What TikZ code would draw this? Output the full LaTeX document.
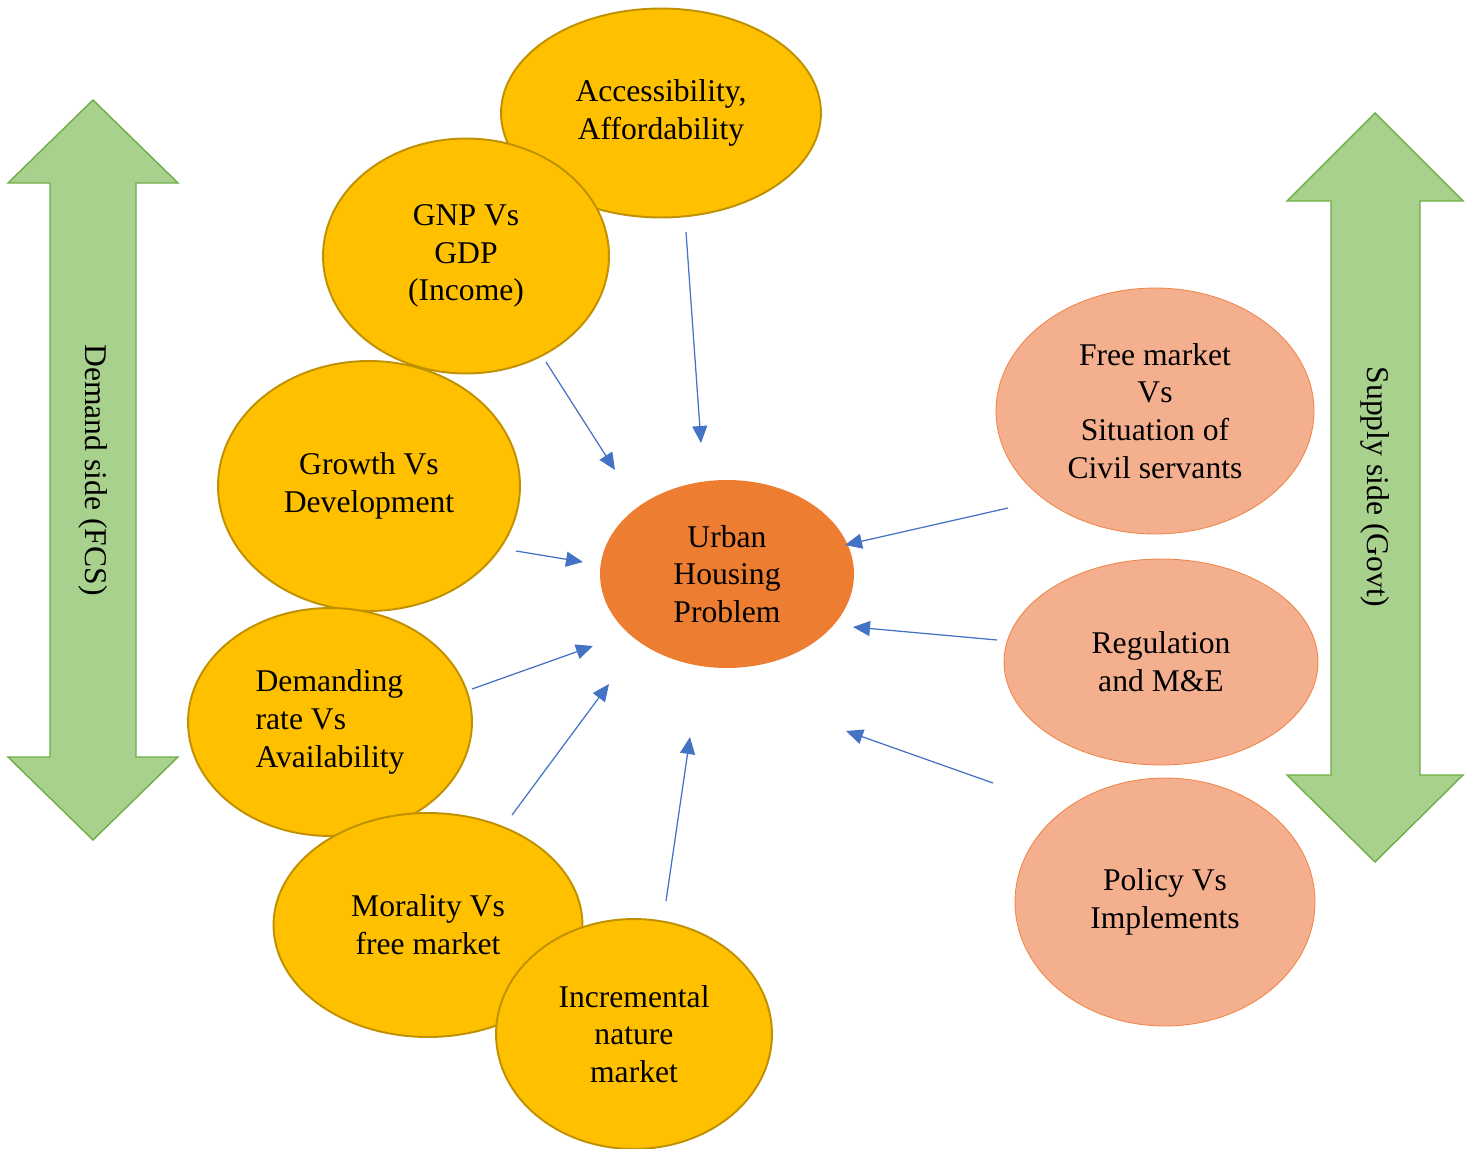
\documentclass[tikz,border=0pt]{standalone}
\usepackage{fontspec}
\setmainfont{Liberation Serif}
\usetikzlibrary{arrows.meta,shapes.geometric}
\definecolor{gold}{HTML}{FFC000}
\definecolor{golddark}{HTML}{BF9000}
\definecolor{urbanorange}{HTML}{ED7D31}
\definecolor{salmon}{HTML}{F4B08E}
\definecolor{salmonline}{HTML}{F0874A}
\definecolor{leaf}{HTML}{A9D18E}
\definecolor{leafdark}{HTML}{70AD47}
\definecolor{arrowblue}{HTML}{4472C4}

\begin{document}
\begin{tikzpicture}
		[x=0.02cm, y=-0.02cm, >={Triangle[length=0.34cm,width=0.3cm]},
		 every node/.style = {font=\fontsize{18}{21.5}\selectfont},
		 demand/.style = {draw=golddark, line width=1.1pt, fill=gold, shape=ellipse, inner sep=0pt, align=center},
		 supply/.style = {draw=salmonline, line width=0.5pt, fill=salmon, shape=ellipse, inner sep=0pt, align=center},
		 core/.style   = {fill=urbanorange, shape=ellipse, inner sep=0pt, align=center},
		 side/.style   = {draw=leafdark, line width=0.8pt, fill=leaf},
		 link/.style   = {->, draw=arrowblue, fill=arrowblue, line width=0.7pt},
		]

	\useasboundingbox (0,0) rectangle (1474,1149);

	% side arrows
	\draw[side] (93,100) -- (178,183) -- (136,183) -- (136,757) -- (178,757) -- (93,840)
		-- (8,757) -- (50,757) -- (50,183) -- (8,183) -- cycle;
	\draw[side] (1375,113) -- (1463,201) -- (1420,201) -- (1420,775) -- (1463,775) -- (1375,862)
		-- (1287,775) -- (1331,775) -- (1331,201) -- (1287,201) -- cycle;
	\node[rotate=-90] (demandside) at (93,470) {Demand side (FCS)};
	\node[rotate=-90] (supplyside) at (1375,487) {Supply side (Govt)};

	% demand side
	\node [demand, minimum width=6.4cm, minimum height=4.18cm]  (access)   at (661,113)  {Accessibility,\\ Affordability};
	\node [demand, minimum width=5.72cm, minimum height=4.7cm]  (gnp)      at (466,256)  {GNP Vs\\ GDP\\ (Income)};
	\node [demand, minimum width=6.04cm, minimum height=5cm]    (growth)   at (369,486)  {Growth Vs\\ Development};
	\node [demand, minimum width=5.68cm, minimum height=4.56cm, align=left] (demanding) at (330,722) {Demanding\\ rate Vs\\ Availability};
	\node [demand, minimum width=6.18cm, minimum height=4.48cm] (morality) at (428,925)  {Morality Vs\\ free market};
	\node [demand, minimum width=5.52cm, minimum height=4.6cm]  (incremental) at (634,1034) {Incremental\\ nature\\ market};

	% centre
	\node [core, minimum width=5.08cm, minimum height=3.76cm]   (urban)    at (727,574)  {Urban\\ Housing\\ Problem};

	% supply side
	\node [supply, minimum width=6.36cm, minimum height=4.92cm] (freemarket) at (1155,411) {Free market\\ Vs\\ Situation of\\ Civil servants};
	\node [supply, minimum width=6.28cm, minimum height=4.12cm] (regulation) at (1161,662) {Regulation\\ and M\&E};
	\node [supply, minimum width=6cm, minimum height=4.96cm]    (policy)     at (1165,902) {Policy Vs\\ Implements};

	% arrow ends
	\coordinate (access-out)      at (686,232);  \coordinate (access-in)      at (701,443);
	\coordinate (gnp-out)         at (546,362);  \coordinate (gnp-in)         at (615,470);
	\coordinate (growth-out)      at (516,551);  \coordinate (growth-in)      at (583,562);
	\coordinate (demanding-out)   at (472,689);  \coordinate (demanding-in)   at (593,646);
	\coordinate (morality-out)    at (512,815);  \coordinate (morality-in)    at (609,684);
	\coordinate (incremental-out) at (666,901);  \coordinate (incremental-in) at (690,737);
	\coordinate (freemarket-out)  at (1008,508); \coordinate (freemarket-in)  at (845,545);
	\coordinate (regulation-out)  at (997,640);  \coordinate (regulation-in)  at (853,627);
	\coordinate (policy-out)      at (993,783);  \coordinate (policy-in)      at (846,731);

	\draw[link] (access-out) -- (access-in);
	\draw[link] (gnp-out) -- (gnp-in);
	\draw[link] (growth-out) -- (growth-in);
	\draw[link] (demanding-out) -- (demanding-in);
	\draw[link] (morality-out) -- (morality-in);
	\draw[link] (incremental-out) -- (incremental-in);
	\draw[link] (freemarket-out) -- (freemarket-in);
	\draw[link] (regulation-out) -- (regulation-in);
	\draw[link] (policy-out) -- (policy-in);

\end{tikzpicture}
\end{document}
